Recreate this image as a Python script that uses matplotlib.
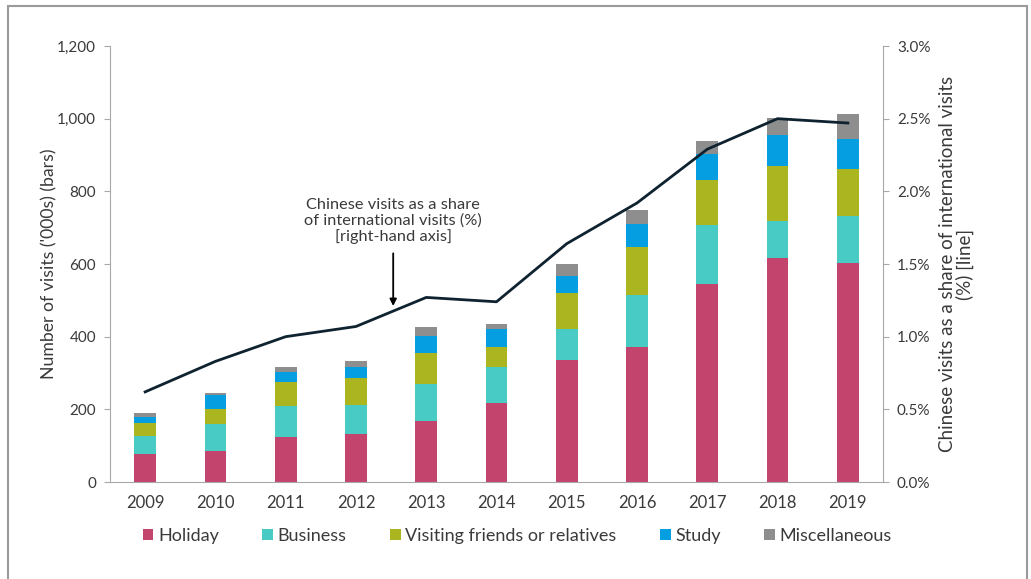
import numpy as np
import matplotlib
matplotlib.use("Agg")
import matplotlib.pyplot as plt
from matplotlib.patches import Rectangle
from matplotlib.ticker import FuncFormatter

years = ["2009", "2010", "2011", "2012", "2013", "2014", "2015", "2016", "2017", "2018", "2019"]

holiday = [76, 85, 125, 131, 169, 218, 336, 371, 545, 617, 604]
business = [51, 75, 85, 81, 101, 98, 85, 145, 163, 101, 128]
vfr = [36, 42, 64, 74, 85, 55, 98, 131, 122, 152, 129]
study = [17, 38, 29, 31, 47, 50, 47, 63, 73, 85, 84]
misc = [9, 6, 14, 16, 24, 15, 35, 39, 36, 48, 68]

share_pct = [0.62, 0.83, 1.00, 1.07, 1.27, 1.24, 1.64, 1.92, 2.29, 2.50, 2.47]

series_names = ["Holiday", "Business", "Visiting friends or relatives", "Study", "Miscellaneous"]
colors = ["#C3456D", "#48CAC5", "#AAB51F", "#059FE1", "#8E8E8E"]

TEXT = "#3A3A3A"
SPINE = "#A8A8A8"

plt.rcParams["font.family"] = ["Lato", "DejaVu Sans"]
plt.rcParams["font.size"] = 11

fig = plt.figure(figsize=(10.31, 5.79), dpi=100)
ax = fig.add_axes([110 / 1031, 1 - 482 / 579, (883 - 110) / 1031, (482 - 46) / 579])

x = np.arange(len(years))
bottom = np.zeros(len(years))
for vals, name, col in zip([holiday, business, vfr, study, misc], series_names, colors):
    ax.bar(x, vals, width=0.31, bottom=bottom, color=col, label=name, zorder=2)
    bottom += np.array(vals)

ax.set_xlim(-0.5, len(years) - 0.5)
ax.set_ylim(0, 1200)
ax.set_yticks(range(0, 1201, 200))
ax.yaxis.set_major_formatter(FuncFormatter(lambda v, p: f"{int(v):,}"))
ax.set_xticks(x)
ax.set_xticklabels(years)
ax.tick_params(axis="x", length=0, pad=9, colors=TEXT, labelsize=12)
ax.tick_params(axis="y", length=4, color=SPINE, colors=TEXT, labelsize=11, pad=6)
for s in ["top", "right"]:
    ax.spines[s].set_visible(False)
ax.spines["left"].set_color(SPINE)
ax.spines["bottom"].set_color(SPINE)
ax.set_ylabel("Number of visits ('000s) (bars)", color=TEXT, fontsize=12.7, labelpad=0)

ax2 = ax.twinx()
ax2.plot(x, share_pct, color="#0E2230", lw=2, zorder=3)
ax2.set_ylim(0, 3.0)
ax2.set_yticks(np.arange(0, 3.01, 0.5))
ax2.yaxis.set_major_formatter(FuncFormatter(lambda v, p: f"{v:.1f}%"))
ax2.tick_params(axis="y", length=4, color=SPINE, colors=TEXT, labelsize=11, pad=6)
for s in ["top", "left", "bottom"]:
    ax2.spines[s].set_visible(False)
ax2.spines["right"].set_color(SPINE)
ax2.set_ylabel("Chinese visits as a share of international visits\n(%) [line]",
               color=TEXT, fontsize=13.5, labelpad=6, linespacing=1.0)

# annotation pointing at the line
ax.annotate("Chinese visits as a share\nof international visits (%)\n[right-hand axis]",
            xy=(3.53, 1200 * (482 - 306) / 436), xycoords="data",
            xytext=(3.53, 1200 * (482 - 198) / 436), textcoords="data",
            ha="center", va="top", color=TEXT, fontsize=11.8, linespacing=1.1,
            arrowprops=dict(arrowstyle="-|>", color="black", lw=1.3,
                            shrinkA=5, shrinkB=0, mutation_scale=10))

fig.legend(loc="center", bbox_to_anchor=(517 / 1031, 1 - 536 / 579), ncol=5,
           frameon=False, handlelength=0.6, handleheight=0.6, handletextpad=0.25,
           columnspacing=2.4, fontsize=13, labelcolor=TEXT)

# light frame around the figure
fig.patches.append(Rectangle((8 / 1031, -0.05), (1027 - 8) / 1031, 1.05 - 6 / 579,
                             transform=fig.transFigure, fill=False,
                             edgecolor="#9A9A9A", lw=1.5))

fig.savefig("out.png", dpi=100)
